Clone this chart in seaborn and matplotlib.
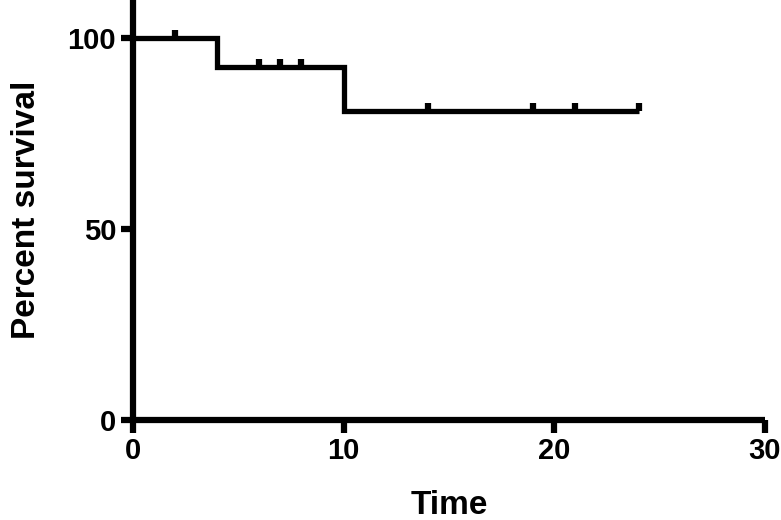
import matplotlib
matplotlib.use("Agg")
import matplotlib.pyplot as plt
import pandas as pd
import seaborn as sns

# Kaplan-Meier step curve
step_time = [0, 4, 4, 10, 10, 24]
step_surv = [100, 100, 92.5, 92.5, 81.0, 81.0]

# censored observations
cens_time = [2, 6, 7, 8, 14, 19, 21, 24]
cens_surv = [100, 92.5, 92.5, 92.5, 81.0, 81.0, 81.0, 81.0]

x_ticks = [0, 10, 20, 30]
y_ticks = [0, 50, 100]

sns.set_style("ticks", {"axes.edgecolor": "black", "xtick.color": "black",
                        "ytick.color": "black", "text.color": "black",
                        "axes.labelcolor": "black"})
plt.rcParams['font.family'] = ['Liberation Sans', 'DejaVu Sans']
plt.rcParams['font.weight'] = 'bold'

fig = plt.figure(figsize=(7.81, 5.2), dpi=100)
ax = fig.add_axes([0.170, 0.192, 0.8095, 0.808])

df = pd.DataFrame({"Time": step_time, "Percent survival": step_surv})
ax.plot(df["Time"], df["Percent survival"], color="black", linewidth=3.8,
        solid_joinstyle="miter", solid_capstyle="butt")
cens = pd.DataFrame({"t": cens_time, "s": cens_surv})
sns.scatterplot(data=cens, x="t", y="s", marker=2, s=32, linewidth=4.5,
                color="black", ax=ax, zorder=3)

ax.set_xlim(0, 30)
ax.set_ylim(0, 110)
ax.set_xticks(x_ticks)
ax.set_yticks(y_ticks)
for s in ["top", "right"]:
    ax.spines[s].set_visible(False)
for s in ["left", "bottom"]:
    ax.spines[s].set_linewidth(4.5)
    ax.spines[s].set_capstyle("butt")
ax.tick_params(axis="both", length=9, width=4.5, labelsize=21, pad=3)
ax.set_xlabel("Time", fontsize=24, fontweight="bold", labelpad=18)
ax.set_ylabel("Percent survival", fontsize=24, fontweight="bold", labelpad=18)
for lab in ax.get_xticklabels() + ax.get_yticklabels():
    lab.set_fontweight("bold")

fig.savefig("out.png", dpi=100)
